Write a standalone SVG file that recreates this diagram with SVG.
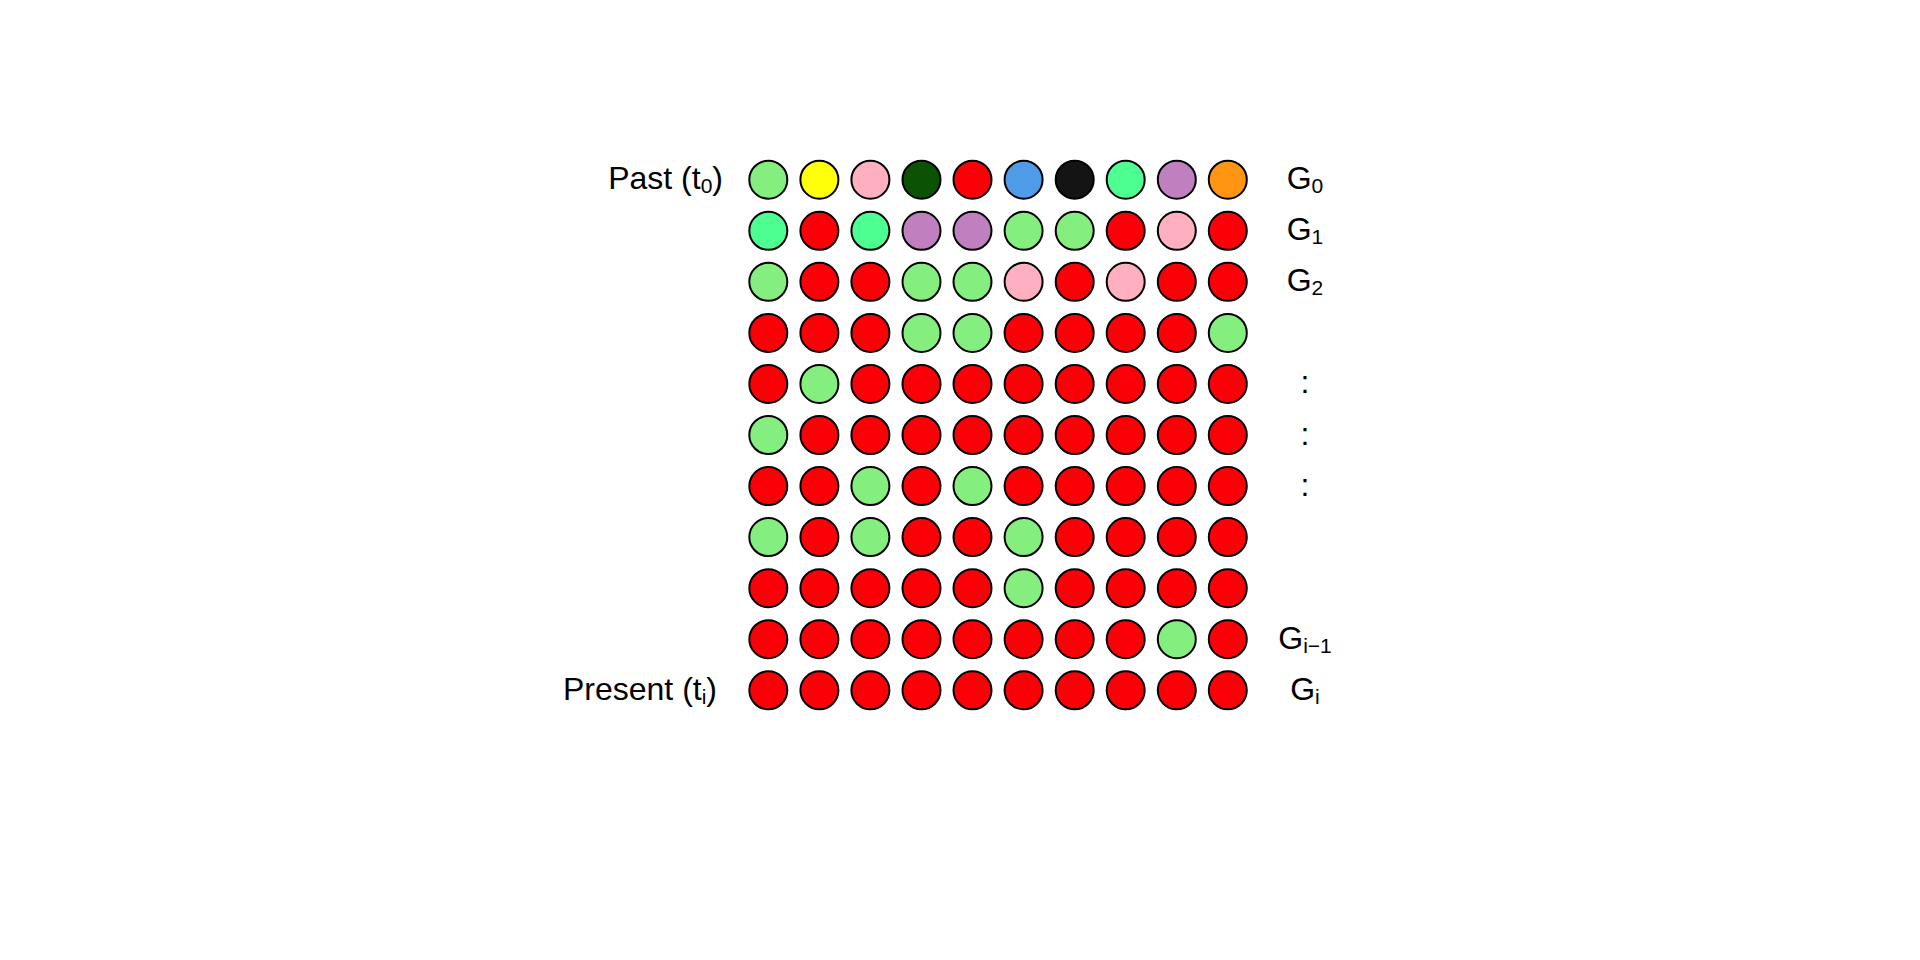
<svg xmlns="http://www.w3.org/2000/svg" width="1920" height="960" viewBox="0 0 1920 960">
<style>
circle{stroke:#000;stroke-width:2}
.lg{fill:#84EE7F}.y{fill:#FFFF0A}.pk{fill:#FFB0C0}.dg{fill:#0B5205}.r{fill:#FB0007}.b{fill:#4F9BE8}.k{fill:#141414}.m{fill:#4DFF90}.pu{fill:#C080C0}.o{fill:#FF9512}
text{font-family:"Liberation Sans",Arial,sans-serif;font-size:32px;fill:#000}
.s{font-size:21px}
</style>
<rect width="1920" height="960" fill="#fff"/>
<g id="labels-left">
<text x="723" y="189.2" text-anchor="end">Past (t<tspan class="s" dy="4">0</tspan><tspan dy="-4">)</tspan></text>
<text x="717" y="699.8" text-anchor="end">Present (t<tspan class="s" dy="4">i</tspan><tspan dy="-4">)</tspan></text>
</g>
<g id="labels-right" text-anchor="middle">
<text x="1305" y="189.2">G<tspan class="s" dy="4">0</tspan></text>
<text x="1305" y="240.3">G<tspan class="s" dy="4">1</tspan></text>
<text x="1305" y="291.3">G<tspan class="s" dy="4">2</tspan></text>
<text x="1305" y="393.4">:</text>
<text x="1305" y="444.5">:</text>
<text x="1305" y="495.6">:</text>
<text x="1305" y="648.7">G<tspan class="s" dy="4">i−1</tspan></text>
<text x="1305" y="699.8">G<tspan class="s" dy="4">i</tspan></text>
</g>
<g id="row0">
<circle class="lg" cx="768.3" cy="179.7" r="19"/><circle class="y" cx="819.4" cy="179.7" r="19"/><circle class="pk" cx="870.4" cy="179.7" r="19"/><circle class="dg" cx="921.5" cy="179.7" r="19"/><circle class="r" cx="972.5" cy="179.7" r="19"/><circle class="b" cx="1023.6" cy="179.7" r="19"/><circle class="k" cx="1074.7" cy="179.7" r="19"/><circle class="m" cx="1125.7" cy="179.7" r="19"/><circle class="pu" cx="1176.8" cy="179.7" r="19"/><circle class="o" cx="1227.8" cy="179.7" r="19"/>
</g>
<g id="row1">
<circle class="m" cx="768.3" cy="230.8" r="19"/><circle class="r" cx="819.4" cy="230.8" r="19"/><circle class="m" cx="870.4" cy="230.8" r="19"/><circle class="pu" cx="921.5" cy="230.8" r="19"/><circle class="pu" cx="972.5" cy="230.8" r="19"/><circle class="lg" cx="1023.6" cy="230.8" r="19"/><circle class="lg" cx="1074.7" cy="230.8" r="19"/><circle class="r" cx="1125.7" cy="230.8" r="19"/><circle class="pk" cx="1176.8" cy="230.8" r="19"/><circle class="r" cx="1227.8" cy="230.8" r="19"/>
</g>
<g id="row2">
<circle class="lg" cx="768.3" cy="281.8" r="19"/><circle class="r" cx="819.4" cy="281.8" r="19"/><circle class="r" cx="870.4" cy="281.8" r="19"/><circle class="lg" cx="921.5" cy="281.8" r="19"/><circle class="lg" cx="972.5" cy="281.8" r="19"/><circle class="pk" cx="1023.6" cy="281.8" r="19"/><circle class="r" cx="1074.7" cy="281.8" r="19"/><circle class="pk" cx="1125.7" cy="281.8" r="19"/><circle class="r" cx="1176.8" cy="281.8" r="19"/><circle class="r" cx="1227.8" cy="281.8" r="19"/>
</g>
<g id="row3">
<circle class="r" cx="768.3" cy="332.9" r="19"/><circle class="r" cx="819.4" cy="332.9" r="19"/><circle class="r" cx="870.4" cy="332.9" r="19"/><circle class="lg" cx="921.5" cy="332.9" r="19"/><circle class="lg" cx="972.5" cy="332.9" r="19"/><circle class="r" cx="1023.6" cy="332.9" r="19"/><circle class="r" cx="1074.7" cy="332.9" r="19"/><circle class="r" cx="1125.7" cy="332.9" r="19"/><circle class="r" cx="1176.8" cy="332.9" r="19"/><circle class="lg" cx="1227.8" cy="332.9" r="19"/>
</g>
<g id="row4">
<circle class="r" cx="768.3" cy="383.9" r="19"/><circle class="lg" cx="819.4" cy="383.9" r="19"/><circle class="r" cx="870.4" cy="383.9" r="19"/><circle class="r" cx="921.5" cy="383.9" r="19"/><circle class="r" cx="972.5" cy="383.9" r="19"/><circle class="r" cx="1023.6" cy="383.9" r="19"/><circle class="r" cx="1074.7" cy="383.9" r="19"/><circle class="r" cx="1125.7" cy="383.9" r="19"/><circle class="r" cx="1176.8" cy="383.9" r="19"/><circle class="r" cx="1227.8" cy="383.9" r="19"/>
</g>
<g id="row5">
<circle class="lg" cx="768.3" cy="435" r="19"/><circle class="r" cx="819.4" cy="435" r="19"/><circle class="r" cx="870.4" cy="435" r="19"/><circle class="r" cx="921.5" cy="435" r="19"/><circle class="r" cx="972.5" cy="435" r="19"/><circle class="r" cx="1023.6" cy="435" r="19"/><circle class="r" cx="1074.7" cy="435" r="19"/><circle class="r" cx="1125.7" cy="435" r="19"/><circle class="r" cx="1176.8" cy="435" r="19"/><circle class="r" cx="1227.8" cy="435" r="19"/>
</g>
<g id="row6">
<circle class="r" cx="768.3" cy="486.1" r="19"/><circle class="r" cx="819.4" cy="486.1" r="19"/><circle class="lg" cx="870.4" cy="486.1" r="19"/><circle class="r" cx="921.5" cy="486.1" r="19"/><circle class="lg" cx="972.5" cy="486.1" r="19"/><circle class="r" cx="1023.6" cy="486.1" r="19"/><circle class="r" cx="1074.7" cy="486.1" r="19"/><circle class="r" cx="1125.7" cy="486.1" r="19"/><circle class="r" cx="1176.8" cy="486.1" r="19"/><circle class="r" cx="1227.8" cy="486.1" r="19"/>
</g>
<g id="row7">
<circle class="lg" cx="768.3" cy="537.1" r="19"/><circle class="r" cx="819.4" cy="537.1" r="19"/><circle class="lg" cx="870.4" cy="537.1" r="19"/><circle class="r" cx="921.5" cy="537.1" r="19"/><circle class="r" cx="972.5" cy="537.1" r="19"/><circle class="lg" cx="1023.6" cy="537.1" r="19"/><circle class="r" cx="1074.7" cy="537.1" r="19"/><circle class="r" cx="1125.7" cy="537.1" r="19"/><circle class="r" cx="1176.8" cy="537.1" r="19"/><circle class="r" cx="1227.8" cy="537.1" r="19"/>
</g>
<g id="row8">
<circle class="r" cx="768.3" cy="588.2" r="19"/><circle class="r" cx="819.4" cy="588.2" r="19"/><circle class="r" cx="870.4" cy="588.2" r="19"/><circle class="r" cx="921.5" cy="588.2" r="19"/><circle class="r" cx="972.5" cy="588.2" r="19"/><circle class="lg" cx="1023.6" cy="588.2" r="19"/><circle class="r" cx="1074.7" cy="588.2" r="19"/><circle class="r" cx="1125.7" cy="588.2" r="19"/><circle class="r" cx="1176.8" cy="588.2" r="19"/><circle class="r" cx="1227.8" cy="588.2" r="19"/>
</g>
<g id="row9">
<circle class="r" cx="768.3" cy="639.2" r="19"/><circle class="r" cx="819.4" cy="639.2" r="19"/><circle class="r" cx="870.4" cy="639.2" r="19"/><circle class="r" cx="921.5" cy="639.2" r="19"/><circle class="r" cx="972.5" cy="639.2" r="19"/><circle class="r" cx="1023.6" cy="639.2" r="19"/><circle class="r" cx="1074.7" cy="639.2" r="19"/><circle class="r" cx="1125.7" cy="639.2" r="19"/><circle class="lg" cx="1176.8" cy="639.2" r="19"/><circle class="r" cx="1227.8" cy="639.2" r="19"/>
</g>
<g id="row10">
<circle class="r" cx="768.3" cy="690.3" r="19"/><circle class="r" cx="819.4" cy="690.3" r="19"/><circle class="r" cx="870.4" cy="690.3" r="19"/><circle class="r" cx="921.5" cy="690.3" r="19"/><circle class="r" cx="972.5" cy="690.3" r="19"/><circle class="r" cx="1023.6" cy="690.3" r="19"/><circle class="r" cx="1074.7" cy="690.3" r="19"/><circle class="r" cx="1125.7" cy="690.3" r="19"/><circle class="r" cx="1176.8" cy="690.3" r="19"/><circle class="r" cx="1227.8" cy="690.3" r="19"/>
</g>
</svg>
